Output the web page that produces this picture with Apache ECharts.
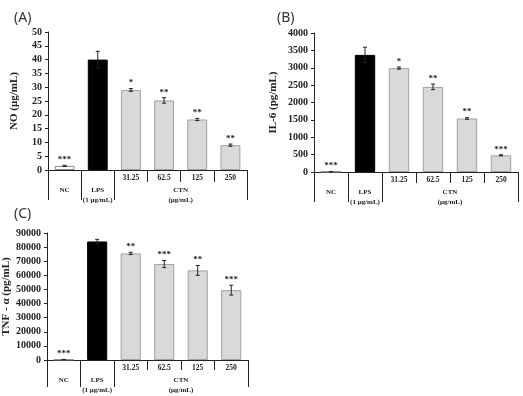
<!DOCTYPE html>
<html><head><meta charset="utf-8">
<script src="https://cdn.jsdelivr.net/npm/echarts@6/dist/echarts.min.js"></script>
<style>html,body{margin:0;padding:0;background:#fff}#c{width:523px;height:396px}</style>
</head><body><div id="c"></div>
<script>
const categories = ['NC', 'LPS', '31.25', '62.5', '125', '250'];
const doseLabels = ['', '', '31.25', '62.5', '125', '250'];
const groupLabels = ['NC', 'LPS\n(1 μg/mL)', 'CTN\n(μg/mL)'];
const groupLabelPos = [0.5, 1.5, 4];
const groupTickPos = [0, 1, 2, 6];

const noValues = [1.5, 40, 29, 25.2, 18.3, 9];
const noErrors = [0.2, 3, 0.5, 1, 0.4, 0.4];
const noStars = ['***', '', '*', '**', '**', '**'];

const il6Values = [10, 3370, 2990, 2450, 1540, 480];
const il6Errors = [5, 220, 30, 80, 25, 15];
const il6Stars = ['***', '', '*', '**', '**', '***'];

const tnfValues = [300, 84000, 75500, 68000, 63500, 49500];
const tnfErrors = [100, 1500, 800, 2500, 3500, 3500];
const tnfStars = ['***', '', '**', '***', '**', '***'];

const panels = [
  {label: '(A)', name: 'NO (μg/mL)', values: noValues, errors: noErrors, stars: noStars, max: 50, interval: 5,
   grid: {left: 48, right: 276, top: 32, bottom: 226}, tl: {left: 9, top: 6}, innerTick: 12, groupTick: 30, nameGap: 28},
  {label: '(B)', name: 'IL-6 (pg/mL)', values: il6Values, errors: il6Errors, stars: il6Stars, max: 4000, interval: 500,
   grid: {left: 314, right: 5, top: 33, bottom: 224}, tl: {left: 272, top: 6}, innerTick: 11, groupTick: 30, nameGap: 35},
  {label: '(C)', name: 'TNF - α (pg/mL)', values: tnfValues, errors: tnfErrors, stars: tnfStars, max: 90000, interval: 10000,
   grid: {left: 45, right: 275, top: 233, bottom: 36}, tl: {left: 9, top: 202}, innerTick: 10, groupTick: 27, nameGap: 32}
];

const serif = 'Liberation Serif';
const option = {animation: false, title: [], grid: [], xAxis: [], yAxis: [], series: []};
panels.forEach((p, i) => {
  option.title.push({text: p.label, left: p.tl.left, top: p.tl.top,
    textStyle: {fontFamily: 'Noto Sans', fontWeight: 'normal', fontSize: 14, color: '#333'}});
  option.grid.push(Object.assign({containLabel: false}, p.grid));
  option.xAxis.push({type: 'category', gridIndex: i, data: categories, position: 'bottom',
    axisLine: {lineStyle: {color: '#222', width: 1}},
    axisTick: {show: true, interval: 0, length: p.innerTick, inside: false, lineStyle: {color: '#222'}},
    axisLabel: {interval: 0, formatter: (v, idx) => doseLabels[idx], margin: 4,
      fontFamily: serif, fontWeight: 'bold', fontSize: 7.5, color: '#222'}});
  option.xAxis.push({type: 'value', gridIndex: i, min: 0, max: 6, position: 'bottom',
    axisLine: {show: false}, splitLine: {show: false},
    axisTick: {show: true, customValues: groupTickPos, length: p.groupTick, lineStyle: {color: '#222'}},
    axisLabel: {customValues: groupLabelPos, margin: 15, lineHeight: 10,
      formatter: v => groupLabels[groupLabelPos.indexOf(v)] || '',
      fontFamily: serif, fontWeight: 'bold', fontSize: 7, color: '#222'}});
  option.yAxis.push({type: 'value', gridIndex: i, min: 0, max: p.max, interval: p.interval,
    name: p.name, nameLocation: 'middle', nameGap: p.nameGap,
    nameTextStyle: {fontFamily: serif, fontWeight: 'bold', fontSize: 11, color: '#222'},
    axisLine: {show: true, lineStyle: {color: '#222'}},
    axisTick: {show: true, length: 3, lineStyle: {color: '#222'}},
    splitLine: {show: false},
    axisLabel: {margin: 6, formatter: v => String(v), fontFamily: serif, fontWeight: 'bold', fontSize: 10, color: '#222'}});
  option.series.push({type: 'bar', xAxisIndex: i * 2, yAxisIndex: i, barWidth: '60%',
    data: p.values.map((v, k) => ({value: v, itemStyle: k === 0 ? {color: '#fff', borderColor: '#888', borderWidth: 1}
      : k === 1 ? {color: '#000', borderColor: '#000', borderWidth: 1} : {color: '#d9d9d9', borderColor: '#a0a0a0', borderWidth: 1}}))});
  option.series.push({type: 'custom', xAxisIndex: i * 2, yAxisIndex: i, z: 5,
    data: p.values.map((v, k) => [k, v, p.errors[k]]),
    renderItem: (params, api) => {
      const k = api.value(0), v = api.value(1), e = api.value(2);
      const top = api.coord([k, v + e]);
      const bot = api.coord([k, v - e]);
      const c = 2;
      return {type: 'group', children: [
        {type: 'line', shape: {x1: top[0], y1: top[1], x2: bot[0], y2: bot[1]}, style: {stroke: '#222', lineWidth: 1}},
        {type: 'line', shape: {x1: top[0] - c, y1: top[1], x2: top[0] + c, y2: top[1]}, style: {stroke: '#222', lineWidth: 1}},
        {type: 'line', shape: {x1: bot[0] - c, y1: bot[1], x2: bot[0] + c, y2: bot[1]}, style: {stroke: '#222', lineWidth: 1}},
        {type: 'text', style: {text: p.stars[k], x: top[0], y: top[1] - 1, align: 'center', verticalAlign: 'bottom',
          font: 'bold 9px "Liberation Serif"', fill: '#222'}}
      ]};
    }});
});
const chart = echarts.init(document.getElementById('c'), null, {renderer: 'canvas'});
chart.setOption(option);
</script></body></html>
